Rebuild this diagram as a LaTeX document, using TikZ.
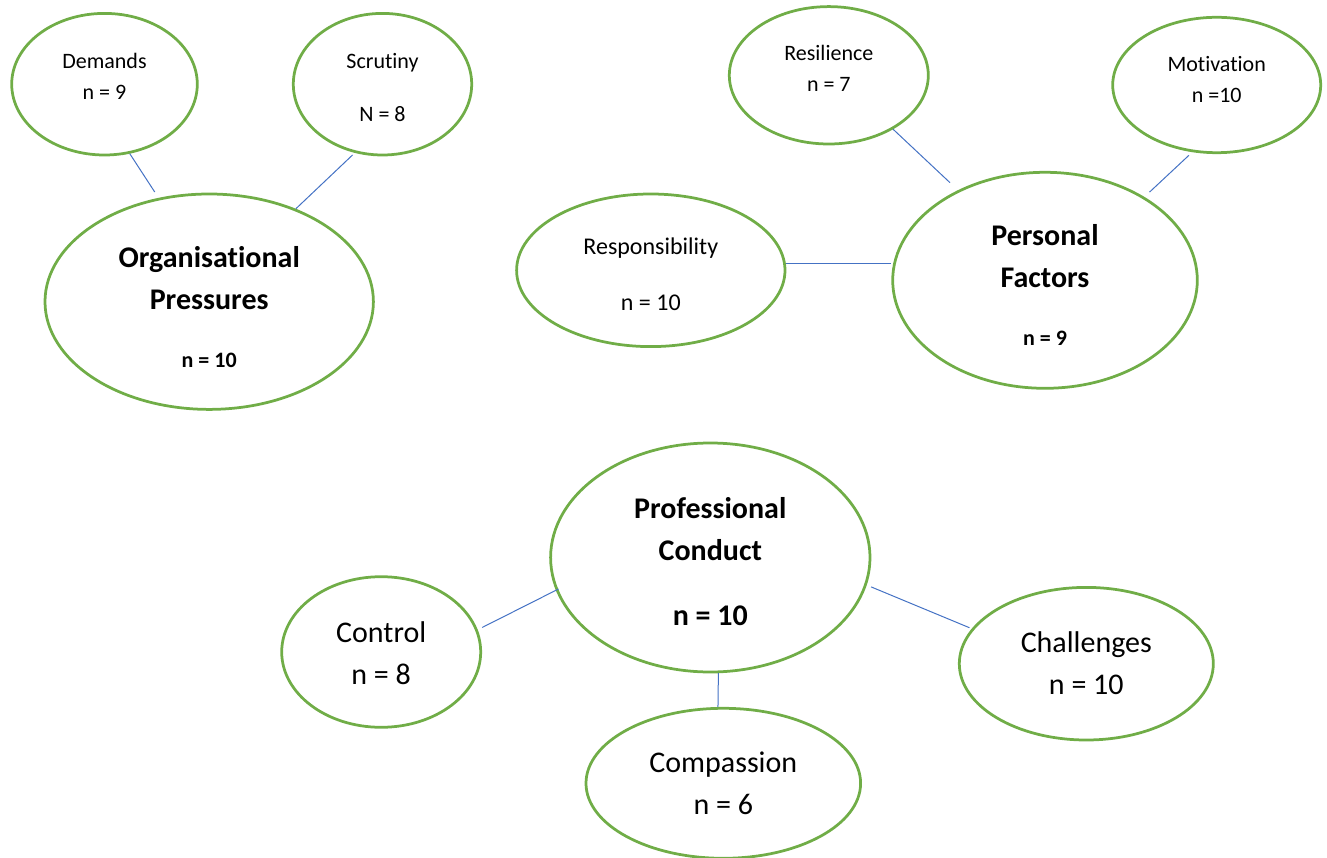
\documentclass[tikz,border=0pt]{standalone}
\usepackage{fontspec}
\setmainfont[Ligatures=NoCommon]{Carlito}
\usetikzlibrary{shapes.geometric}
\definecolor{themeGreen}{RGB}{112,173,71}
\definecolor{themeBlue}{RGB}{68,114,196}

\begin{document}
\begin{tikzpicture}[
  x=1pt, y=-1pt,
  bubble/.style={
    ellipse,
    draw=themeGreen,
    line width=2.75pt,
    inner sep=0pt
  },
  link/.style={themeBlue,line width=1pt},
  smallText/.style={align=center,font=\fontsize{22}{31}\selectfont},
  midText/.style={align=center,font=\fontsize{24}{29}\selectfont},
  bigText/.style={align=center,font=\fontsize{30}{42}\selectfont},
  headText/.style={align=center,font=\bfseries\fontsize{30}{42}\selectfont}
]
  \useasboundingbox (0,0) rectangle (1327,858);

  % organisational pressures
  \node[bubble,minimum width=185.6pt,minimum height=141.6pt] (demands) at (104.5,84.2) {};
  \node[smallText] (demandsText) at (104.5,76.3) {Demands\\n = 9};
  \node[bubble,minimum width=178.4pt,minimum height=141.6pt] (scrutiny) at (382.5,84.2) {};
  \node[smallText] (scrutinyText) at (382.5,87.5) {Scrutiny\\[22pt]N = 8};
  \node[bubble,minimum width=328.4pt,minimum height=215.4pt] (org) at (209.2,301.7) {};
  \node[headText] (orgText) at (209.2,307.3)
    {Organisational\\Pressures\\[16pt]{\fontsize{22}{26}\selectfont n = 10}};

  % personal factors
  \node[bubble,minimum width=199pt,minimum height=137.4pt] (resilience) at (828.8,75.3) {};
  \node[smallText] (resilienceText) at (828.8,68.3) {Resilience\\n = 7};
  \node[bubble,minimum width=208pt,minimum height=135.4pt] (motivation) at (1216.7,85) {};
  \node[smallText] (motivationText) at (1216.7,79.5) {Motivation\\n =10};
  \node[bubble,minimum width=268.4pt,minimum height=152.6pt] (respons) at (650.8,270.3) {};
  \node[midText] (responsText) at (650.8,273.8) {Responsibility\\[27pt]n = 10};
  \node[bubble,minimum width=304.6pt,minimum height=216pt] (personal) at (1045,280.3) {};
  \node[headText] (personalText) at (1045,285)
    {Personal\\Factors\\[16pt]{\fontsize{22}{26}\selectfont n = 9}};

  % professional conduct
  \node[bubble,minimum width=319.4pt,minimum height=229pt] (conduct) at (710.3,557.5) {};
  \node[headText] (conductText) at (710.3,561.5) {Professional\\Conduct\\[23pt]n = 10};
  \node[bubble,minimum width=199pt,minimum height=150.6pt] (control) at (381.2,652) {};
  \node[bigText] (controlText) at (381.2,653.2) {Control\\n = 8};
  \node[bubble,minimum width=254pt,minimum height=152.6pt] (challenges) at (1086.3,663.7) {};
  \node[bigText] (challengesText) at (1086.3,662.8) {Challenges\\n = 10};
  \node[bubble,minimum width=274.6pt,minimum height=150pt] (compassion) at (723.3,783.3) {};
  \node[bigText] (compassionText) at (723.3,783) {Compassion\\n = 6};

  % links
  \draw[link,shorten >=7pt] (demands.-70) -- (org.116);
  \draw[link,shorten <=3pt] (scrutiny.-112) -- (org.47);
  \draw[link,shorten >=11pt] (resilience.-40) -- (personal.134);
  \draw[link,shorten <=4.6pt,shorten >=7pt] (motivation.-110) -- (personal.40);
  \draw[link] (respons.3) -- (respons.3 -| personal.west);
  \draw[link,shorten <=5pt,shorten >=-3pt] (control.13) -- (conduct.-168);
  \draw[link,shorten <=4.7pt,shorten >=2.5pt] (conduct.-10) -- (challenges.163);
  \draw[link] (conduct.-86) -- (compassion.94);
\end{tikzpicture}
\end{document}
